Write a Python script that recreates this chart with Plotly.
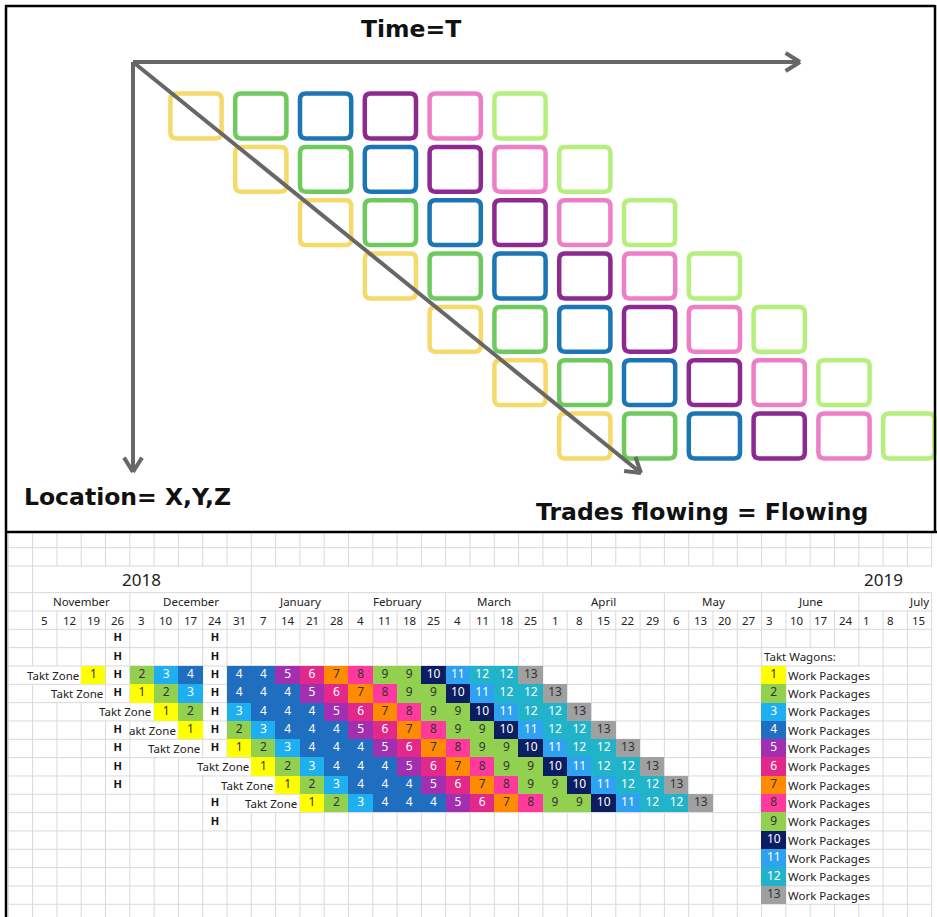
import math
import plotly.graph_objects as go

W, H = 937, 917
SPLIT = 532  # px row where the two panels meet

# ======================= DATA =======================
# --- top diagram (takt flow concept) ---
locations = 7                      # rows of squares (locations)
trade_colors = ["#F6D96B", "#6FCA5E", "#1C76B5", "#8E2992", "#EE7EC6", "#B6EF7E"]
top_title = "Time=T"
top_left_label = "Location= X,Y,Z"
top_right_label = "Trades flowing = Flowing"

# --- bottom takt plan ---
year_labels = ["2018", "2019"]
month_labels = ["November", "December", "January", "February", "March",
                "April", "May", "June", "July"]
month_abbr = ["Nov", "Dec", "Jan", "Feb", "Mar", "Apr", "May", "Jun", "Jul"]
month_week_counts = [4, 5, 4, 4, 4, 5, 4, 4, 3]
week_days = [5, 12, 19, 26,
             3, 10, 17, 24, 31,
             7, 14, 21, 28,
             4, 11, 18, 25,
             4, 11, 18, 25,
             1, 8, 15, 22, 29,
             6, 13, 20, 27,
             3, 10, 17, 24,
             1, 8, 15]
left_aligned_from = "Jun 3"        # day labels from here on are left aligned

holiday_marks = [                  # "H" per plan row
    ["Nov 26", "Dec 24"],
    ["Nov 26", "Dec 24"],
    ["Nov 26", "Dec 24"],
    ["Nov 26", "Dec 24"],
    ["Dec 24"],
    ["Nov 26", "Dec 24"],
    ["Nov 26", "Dec 24"],
    ["Nov 26"],
    ["Nov 26"],
    ["Dec 24"],
    ["Dec 24"],
]
holiday_weeks = ["Nov 26", "Dec 24"]

zone_start = ["Nov 19", "Dec 3", "Dec 10", "Dec 17", "Dec 31", "Jan 7", "Jan 14", "Jan 21"]
zone_labels = ["Takt Zone", "Takt Zone", "Takt Zone", "akt Zone",
               "Takt Zone", "Takt Zone", "Takt Zone", "Takt Zone"]
wagon_sequence = [1, 2, 3, 4, 4, 4, 5, 6, 7, 8, 9, 9, 10, 11, 12, 12, 13]

wagon_ids = list(range(1, 14))
wagon_colors = ["#FFFF00", "#92D050", "#1DAFF0", "#1F6EC0", "#A22EB0", "#E2288A",
                "#FF8C00", "#FF3A9C", "#92D050", "#0C1E62", "#2EA2F0", "#20B3CA", "#A0A0A0"]
wagon_text_colors = ["#333333", "#333333", "#FFFFFF", "#FFFFFF", "#FFFFFF", "#FFFFFF",
                     "#333333", "#333333", "#333333", "#FFFFFF", "#FFFFFF", "#FFFFFF", "#333333"]
legend_title = "Takt Wagons:"
legend_text = "Work Packages"
legend_week = "Jun 3"

# ======================= GEOMETRY =======================
# top axes: unit = one takt step / one location
TX0, TSX = 196.0, 64.8
TY0, TSY = 116.0, 53.33
# bottom axes: unit = one week column / one sheet row
BX0, BSX = 8.3, 24.3
BY0, BSY = 629.3, 18.33

FONT_T = "DejaVu Sans"
FONT_B = "Noto Sans"

# week key -> column index (column 0 is the blank first column)
week_keys = []
i = 0
for m, n in zip(month_abbr, month_week_counts):
    for _ in range(n):
        week_keys.append(f"{m} {week_days[i]}")
        i += 1
col_of = {k: j + 1 for j, k in enumerate(week_keys)}
NCOL = len(week_keys) + 1

fig = go.Figure()
shapes = []
annotations = []

# ---------------- top diagram ----------------
def rrect(cx, cy, hw, hh, rx, ry):
    x0, x1, y0, y1 = cx - hw, cx + hw, cy - hh, cy + hh
    return (f"M{x0+rx},{y0} L{x1-rx},{y0} Q{x1},{y0} {x1},{y0+ry} "
            f"L{x1},{y1-ry} Q{x1},{y1} {x1-rx},{y1} L{x0+rx},{y1} "
            f"Q{x0},{y1} {x0},{y1-ry} L{x0},{y0+ry} Q{x0},{y0} {x0+rx},{y0} Z")

for r in range(locations):
    for j, colr in enumerate(trade_colors):
        shapes.append(dict(type="path", xref="x", yref="y", layer="below",
                           path=rrect(r + j, r, 0.395, 0.42, 0.09, 0.11),
                           line=dict(color=colr, width=4.5),
                           fillcolor="rgba(0,0,0,0)"))

def tpx(px, py):
    return (px - TX0) / TSX, (py - TY0) / TSY

origin = (133, 62)
tips = [(800, 62), (133, 472), (641, 473)]
ax_x, ax_y = [], []
for tip in tips:
    for p in (origin, tip):
        x, y = tpx(*p)
        ax_x.append(x); ax_y.append(y)
    ax_x.append(None); ax_y.append(None)
    dx, dy = tip[0] - origin[0], tip[1] - origin[1]
    L = math.hypot(dx, dy)
    ux, uy = -dx / L, -dy / L
    for s in (1, -1):
        a = math.radians(32) * s
        bx = ux * math.cos(a) - uy * math.sin(a)
        by = ux * math.sin(a) + uy * math.cos(a)
        p1 = (tip[0] + 17 * bx, tip[1] + 17 * by)
        for p in (p1, tip):
            x, y = tpx(*p)
            ax_x.append(x); ax_y.append(y)
        ax_x.append(None); ax_y.append(None)

fig.add_trace(go.Scatter(x=ax_x, y=ax_y, mode="lines", xaxis="x", yaxis="y",
                         line=dict(color="#676767", width=4), hoverinfo="skip",
                         showlegend=False))

def paper(px, py):
    return px / W, 1 - py / H

for txt, (px, py) in [(top_title, (411, 29)), (top_left_label, (127, 497)),
                      (top_right_label, (702, 512))]:
    x, y = paper(px, py)
    annotations.append(dict(text=f"<b>{txt}</b>", x=x, y=y, xref="paper", yref="paper",
                            showarrow=False, xanchor="center", yanchor="middle",
                            font=dict(family=FONT_T, size=23.5, color="#111111")))

# ---------------- bottom takt plan ----------------
# colored cells (takt zones + legend) as one heatmap
K0 = 2                       # first zone / legend row
NROW = 13
z = [[None] * NCOL for _ in range(NROW)]
cell_x, cell_y, cell_t, cell_c = [], [], [], []
label_end = []
for zi, start in enumerate(zone_start):
    k = K0 + zi
    c = col_of[start]
    hol_here = {col_of[h] for h in holiday_marks[k]}
    label_end.append(c - 1 if (c - 1) in hol_here else c)
    for v in wagon_sequence:
        while c in {col_of[h] for h in holiday_weeks} and c in hol_here:
            c += 1
        z[k - K0][c] = v
        cell_x.append(c + 0.5); cell_y.append(k + 0.5)
        cell_t.append(str(v)); cell_c.append(wagon_text_colors[v - 1])
        c += 1
lc = col_of[legend_week]
for j, v in enumerate(wagon_ids):
    z[j][lc] = v
    cell_x.append(lc + 0.5); cell_y.append(K0 + j + 0.5)
    cell_t.append(str(v)); cell_c.append(wagon_text_colors[v - 1])

cs = []
n = len(wagon_colors)
for j, colr in enumerate(wagon_colors):
    cs.append([j / n, colr]); cs.append([(j + 1) / n, colr])

fig.add_trace(go.Heatmap(z=z, x=[c + 0.5 for c in range(NCOL)],
                         y=[K0 + k + 0.5 for k in range(NROW)],
                         colorscale=cs, zmin=0.5, zmax=13.5, showscale=False,
                         xaxis="x2", yaxis="y2", hoverinfo="skip", xgap=0, ygap=0))

fig.add_trace(go.Scatter(x=cell_x, y=cell_y, text=cell_t, mode="text",
                         textfont=dict(family=FONT_B, size=12, color=cell_c),
                         xaxis="x2", yaxis="y2", hoverinfo="skip", showlegend=False))

hx, hy = [], []
for k, row in enumerate(holiday_marks):
    for h in row:
        hx.append(col_of[h] + 0.5); hy.append(k + 0.5)
fig.add_trace(go.Scatter(x=hx, y=hy, text=["<b>H</b>"] * len(hx), mode="text",
                         textfont=dict(family=FONT_B, size=11, color="#111111"),
                         xaxis="x2", yaxis="y2", hoverinfo="skip", showlegend=False))

def bt(text, x, y, xanchor="center", size=11.5, color="#222222"):
    annotations.append(dict(text=text, x=x, y=y, xref="x2", yref="y2", showarrow=False,
                            xanchor=xanchor, yanchor="middle", borderpad=0,
                            font=dict(family=FONT_B, size=size, color=color)))

# zone labels
for zi, lab in enumerate(zone_labels):
    bt(lab, label_end[zi] - 0.07, K0 + zi + 0.5, xanchor="right")
# legend
bt(legend_title, lc + 0.06, K0 - 0.5, xanchor="left")
for j in range(len(wagon_ids)):
    bt(legend_text, lc + 1.06, K0 + j + 0.5, xanchor="left")

# header rows (sheet rows in y units)
Y_A, Y_B, Y_YEAR, Y_MON, Y_DAY = -5.3, -4.45, -3.45, -2.0, -1.0
bt(year_labels[0], 5.5, (Y_YEAR + Y_MON) / 2, size=17)
bt(year_labels[1], 36.0, (Y_YEAR + Y_MON) / 2, size=17)
month_bounds = [1]
for cnt in month_week_counts:
    month_bounds.append(month_bounds[-1] + cnt)
for mi, lab in enumerate(month_labels):
    a, b = month_bounds[mi], month_bounds[mi + 1]
    if mi == len(month_labels) - 1:
        bt(lab, b - 0.08, (Y_MON + Y_DAY) / 2, xanchor="right")
    else:
        bt(lab, (a + b) / 2, (Y_MON + Y_DAY) / 2)
la = col_of[left_aligned_from]
for j, d in enumerate(week_days):
    c = j + 1
    if c >= la:
        bt(str(d), c + 0.13, (Y_DAY + 0) / 2, xanchor="left")
    else:
        bt(str(d), c + 0.5, (Y_DAY + 0) / 2)

# ---- grid lines (one path) ----
NGROW = 16
segs = []
for y in [Y_B, Y_YEAR, Y_MON, Y_DAY] + list(range(0, NGROW + 1)):
    segs.append(f"M0,{y} L{NCOL},{y}")
bands = [(Y_A, Y_B, "all"), (Y_B, Y_YEAR, "all"), (Y_YEAR, Y_MON, "year"),
         (Y_MON, Y_DAY, "month"), (Y_DAY, 0, "all")] + [(k, k + 1, k) for k in range(NGROW)]
skip = {1: {32, 33, 34}}
for j in range(len(wagon_ids)):
    skip.setdefault(K0 + j, set()).update({lc + 2, lc + 3, lc + 4})
for zi, e in enumerate(label_end):
    k = K0 + zi
    w = 2 if zone_labels[zi].startswith("T") else 1
    skip.setdefault(k, set()).update(range(e - w, e))
for y0, y1, kind in bands:
    for c in range(NCOL + 1):
        if kind == "year" and c not in (0, 1, month_bounds[2]):
            continue
        if kind == "month" and c not in [0] + month_bounds:
            continue
        if isinstance(kind, int) and c in skip.get(kind, set()):
            continue
        segs.append(f"M{c},{y0} L{c},{y1}")
shapes.append(dict(type="path", xref="x2", yref="y2", layer="below",
                   path=" ".join(segs), line=dict(color="#D9D9D9", width=1)))

# ---- black frame ----
for (x0, y0, x1, y1) in [(6, 5, 6, H), (5, 6, 935, 6), (935, 5, 935, SPLIT),
                         (5, SPLIT, W, SPLIT)]:
    a0, b0 = paper(x0, y0); a1, b1 = paper(x1, y1)
    shapes.append(dict(type="line", xref="paper", yref="paper", x0=a0, y0=b0, x1=a1, y1=b1,
                       line=dict(color="#000000", width=2.5), layer="above"))

top_dom = [1 - SPLIT / H, 1]
bot_dom = [0, 1 - SPLIT / H]
fig.update_layout(
    width=W, height=H, margin=dict(l=0, r=0, t=0, b=0, pad=0),
    paper_bgcolor="white", plot_bgcolor="white", showlegend=False, hovermode=False,
    xaxis=dict(domain=[0, 1], range=[(0 - TX0) / TSX, (W - TX0) / TSX], visible=False,
               anchor="y", fixedrange=True),
    yaxis=dict(domain=top_dom, range=[(SPLIT - TY0) / TSY, (0 - TY0) / TSY], visible=False,
               anchor="x", fixedrange=True),
    xaxis2=dict(domain=[0, 1], range=[(0 - BX0) / BSX, (W - BX0) / BSX], visible=False,
                anchor="y2", fixedrange=True),
    yaxis2=dict(domain=bot_dom, range=[(H - BY0) / BSY, (SPLIT - BY0) / BSY], visible=False,
                anchor="x2", fixedrange=True),
    shapes=shapes, annotations=annotations,
)
fig.write_html("out.html", config={"displayModeBar": False},
               post_script="document.body.style.margin='0';document.body.style.overflow='hidden';")
